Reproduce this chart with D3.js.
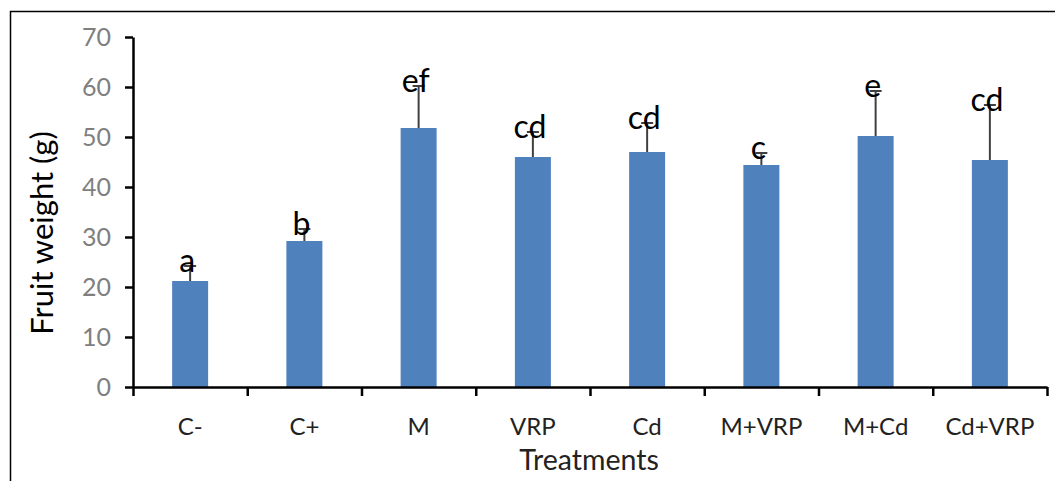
<!DOCTYPE html>
<html lang="en">
  <head>
    <meta charset="UTF-8" />
    <script src="https://cdn.jsdelivr.net/npm/d3@7/dist/d3.min.js"></script>
    <style>
      body {
        margin: 0;
        background: #fff;
        font-family: Lato, "Open Sans", sans-serif;
      }
    </style>
    <title>Fruit weight by treatment</title>
  </head>
  <body>
    <div class="canvas"></div>
    <script>
      // data
      const treatments = ["C-", "C+", "M", "VRP", "Cd", "M+VRP", "M+Cd", "Cd+VRP"];
      const fruitWeight = [21.2, 29.2, 51.8, 46.0, 47.0, 44.4, 50.2, 45.4];
      const errorUp = [3.0, 2.4, 8.4, 5.0, 5.8, 2.4, 9.0, 11.0];
      const letters = ["a", "b", "ef", "cd", "cd", "c", "e", "cd"];
      const yTicks = [0, 10, 20, 30, 40, 50, 60, 70];

      const W = 1055, H = 481;
      const margin = { top: 37, right: 8, bottom: 94, left: 133 };

      const svg = d3.select(".canvas").append("svg")
        .attr("width", W).attr("height", H);

      // outer frame (top and left edges visible)
      svg.append("path")
        .attr("d", `M10.5,${H} V11.5 H${W}`)
        .attr("fill", "none").attr("stroke", "#000").attr("stroke-width", 1.5);

      const x = d3.scaleBand().domain(treatments)
        .range([margin.left, W - margin.right]).paddingInner(0.685).paddingOuter(0.3425);
      const xEdge = d3.scaleLinear().domain([0, treatments.length])
        .range([margin.left, W - margin.right]);
      const y = d3.scaleLinear().domain([0, 70]).range([H - margin.bottom, margin.top]);

      // bars
      svg.append("g").selectAll("rect").data(fruitWeight).join("rect")
        .attr("x", (d, i) => x(treatments[i]))
        .attr("y", d => y(d))
        .attr("width", x.bandwidth())
        .attr("height", d => y(0) - y(d))
        .attr("fill", "#4f81bd");

      // error bars (upper only)
      const eb = svg.append("g").attr("stroke", "#404040").attr("stroke-width", 2);
      fruitWeight.forEach((v, i) => {
        const cx = x(treatments[i]) + x.bandwidth() / 2;
        eb.append("line").attr("x1", cx).attr("x2", cx)
          .attr("y1", y(v)).attr("y2", y(v + errorUp[i]));
        eb.append("line").attr("x1", cx - 6).attr("x2", cx + 6)
          .attr("y1", y(v + errorUp[i])).attr("y2", y(v + errorUp[i]));
      });

      // significance letters
      svg.append("g").selectAll("text").data(letters).join("text")
        .attr("x", (d, i) => x(treatments[i]) + x.bandwidth() / 2 - 3)
        .attr("y", (d, i) => y(fruitWeight[i] + errorUp[i]) + 6)
        .attr("text-anchor", "middle")
        .attr("font-size", 32)
        .attr("fill", "#000")
        .text(d => d);

      // y axis
      const yAxis = svg.append("g")
        .attr("transform", `translate(${margin.left},0)`)
        .call(d3.axisLeft(y).tickValues(yTicks).tickSize(8).tickSizeOuter(0).tickPadding(14));
      yAxis.select(".domain").attr("stroke", "#000").attr("stroke-width", 2.5);
      yAxis.selectAll(".tick line").attr("stroke", "#000").attr("stroke-width", 2.5);
      yAxis.selectAll(".tick text").attr("font-size", 25).attr("fill", "#7f7f7f")
        .attr("font-family", "Lato, sans-serif");

      // x axis: ticks at category edges
      const xAxis = svg.append("g")
        .attr("transform", `translate(0,${y(0)})`)
        .call(d3.axisBottom(xEdge).tickValues(d3.range(treatments.length + 1))
          .tickSize(9).tickSizeOuter(0).tickFormat(""));
      xAxis.select(".domain").attr("stroke", "#000").attr("stroke-width", 2.5);
      xAxis.selectAll(".tick line").attr("stroke", "#000").attr("stroke-width", 2.5);

      svg.append("g").selectAll("text").data(treatments).join("text")
        .attr("x", d => x(d) + x.bandwidth() / 2)
        .attr("y", y(0) + 48)
        .attr("text-anchor", "middle")
        .attr("font-size", 24)
        .attr("fill", "#222")
        .text(d => d);

      // axis titles
      svg.append("text")
        .attr("x", (margin.left + W - margin.right) / 2 - 1)
        .attr("y", 470)
        .attr("text-anchor", "middle")
        .attr("font-size", 28.5)
        .attr("fill", "#222")
        .text("Treatments");

      svg.append("text")
        .attr("transform", "translate(53,233) rotate(-90)")
        .attr("text-anchor", "middle")
        .attr("font-size", 31)
        .attr("fill", "#000")
        .text("Fruit weight (g)");
    </script>
  </body>
</html>
